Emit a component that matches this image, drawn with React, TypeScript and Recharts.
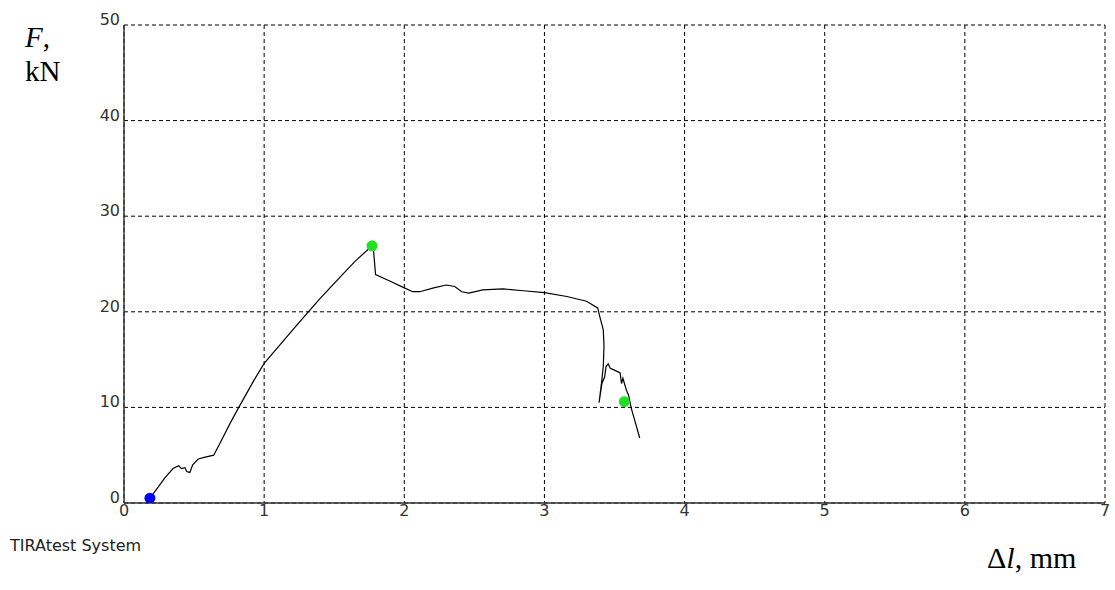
import React from "react";
import {
  ComposedChart,
  Line,
  Scatter,
  XAxis,
  YAxis,
  CartesianGrid,
} from "recharts";

// Δl (mm) and F (kN)
const curveX = [
  0.16, 0.185, 0.22, 0.29, 0.35, 0.39, 0.41, 0.435, 0.447, 0.47, 0.49, 0.53,
  0.58, 0.64, 0.685, 0.756, 0.815, 0.93, 1.0, 1.25, 1.4, 1.54, 1.65, 1.77, 1.78,
  1.795, 1.9, 2.0, 2.06, 2.11, 2.21, 2.3, 2.36, 2.41, 2.46, 2.56, 2.705, 2.85,
  3.0, 3.16, 3.3, 3.38, 3.395, 3.42, 3.425, 3.42, 3.41, 3.39, 3.41, 3.43,
  3.44, 3.455, 3.47, 3.5, 3.54, 3.55, 3.56, 3.585, 3.6, 3.62, 3.68,
];
const curveY = [
  0.0, 0.5, 1.2, 2.6, 3.6, 3.9, 3.6, 3.7, 3.3, 3.2, 4.0, 4.6, 4.8, 5.0, 6.25,
  8.3, 9.9, 12.9, 14.6, 18.9, 21.4, 23.6, 25.3, 26.9, 26.5, 23.9, 23.2, 22.5,
  22.1, 22.1, 22.5, 22.8, 22.65, 22.1, 21.95, 22.3, 22.4, 22.2, 22.0, 21.6,
  21.1, 20.4, 19.5, 18.1, 16.4, 14.3, 12.9, 10.5, 12.5, 13.2, 14.3, 14.55,
  14.1, 13.9, 13.6, 12.5, 13.05, 11.8, 11.3, 9.9, 6.8,
];

const greenX = [1.77, 3.57];
const greenY = [26.9, 10.6];
const blueX = [0.185];
const blueY = [0.5];

const xTicks = [0, 1, 2, 3, 4, 5, 6, 7];
const yTicks = [0, 10, 20, 30, 40, 50];

const curve = curveX.map((x, i) => ({ x, y: curveY[i] }));
const greenPts = greenX.map((x, i) => ({ x, y: greenY[i] }));
const bluePts = blueX.map((x, i) => ({ x, y: blueY[i] }));

const tickFont = "'DejaVu Sans', sans-serif";
const serif = "'Liberation Serif', 'Times New Roman', serif";

const YTick = (p: any) => (
  <text
    x={p.x}
    y={p.y}
    textAnchor="end"
    fontFamily={tickFont}
    fontSize={16}
    fill="#333"
  >
    {p.payload.value}
  </text>
);

const XTick = (p: any) => (
  <text
    x={p.x}
    y={p.y + 13}
    textAnchor="middle"
    fontFamily={tickFont}
    fontSize={16}
    fill="#333"
  >
    {p.payload.value}
  </text>
);

const Dot = (color: string) => (p: any) => (
  <circle cx={p.cx} cy={p.cy} r={5.5} fill={color} />
);

export default function App() {
  return (
    <div
      style={{
        position: "absolute",
        left: 0,
        top: 0,
        width: 1115,
        height: 590,
        background: "#fff",
      }}
    >
      <ComposedChart
        width={1115}
        height={590}
        margin={{ top: 25, right: 10, bottom: 57, left: 84 }}
      >
        <CartesianGrid stroke="#000" strokeDasharray="4 3" />
        <XAxis
          type="number"
          dataKey="x"
          domain={[0, 7]}
          ticks={xTicks}
          interval={0}
          height={30}
          tickLine={false}
          tickSize={0}
          tickMargin={0}
          tick={<XTick />}
          axisLine={{ stroke: "#333", strokeWidth: 1.5 }}
          allowDataOverflow
        />
        <YAxis
          type="number"
          dataKey="y"
          domain={[0, 50]}
          ticks={yTicks}
          interval={0}
          width={40}
          tickLine={false}
          tickSize={0}
          tickMargin={4}
          tick={<YTick />}
          axisLine={{ stroke: "#333", strokeWidth: 1.5 }}
          allowDataOverflow
        />
        <Line
          data={curve}
          dataKey="y"
          type="linear"
          stroke="#000"
          strokeWidth={1.2}
          dot={false}
          activeDot={false}
          isAnimationActive={false}
        />
        <Scatter
          data={greenPts}
          dataKey="y"
          fill="#22e022"
          shape={Dot("#22e022")}
          isAnimationActive={false}
        />
        <Scatter
          data={bluePts}
          dataKey="y"
          fill="#0000ff"
          shape={Dot("#0000ff")}
          isAnimationActive={false}
        />
      </ComposedChart>
      <div
        style={{
          position: "absolute",
          left: 25,
          top: 20,
          fontFamily: serif,
          fontSize: 29,
          lineHeight: "34px",
          color: "#000",
        }}
      >
        <div>
          <i>F</i>,
        </div>
        <div>kN</div>
      </div>
      <div
        style={{
          position: "absolute",
          left: 10,
          top: 536,
          fontFamily: tickFont,
          fontSize: 16,
          color: "#222",
          whiteSpace: "nowrap",
        }}
      >
        TIRAtest System
      </div>
      <div
        style={{
          position: "absolute",
          left: 987,
          top: 541,
          fontFamily: serif,
          fontSize: 30,
          color: "#000",
          whiteSpace: "nowrap",
        }}
      >
        Δ<i>l</i>, mm
      </div>
    </div>
  );
}
